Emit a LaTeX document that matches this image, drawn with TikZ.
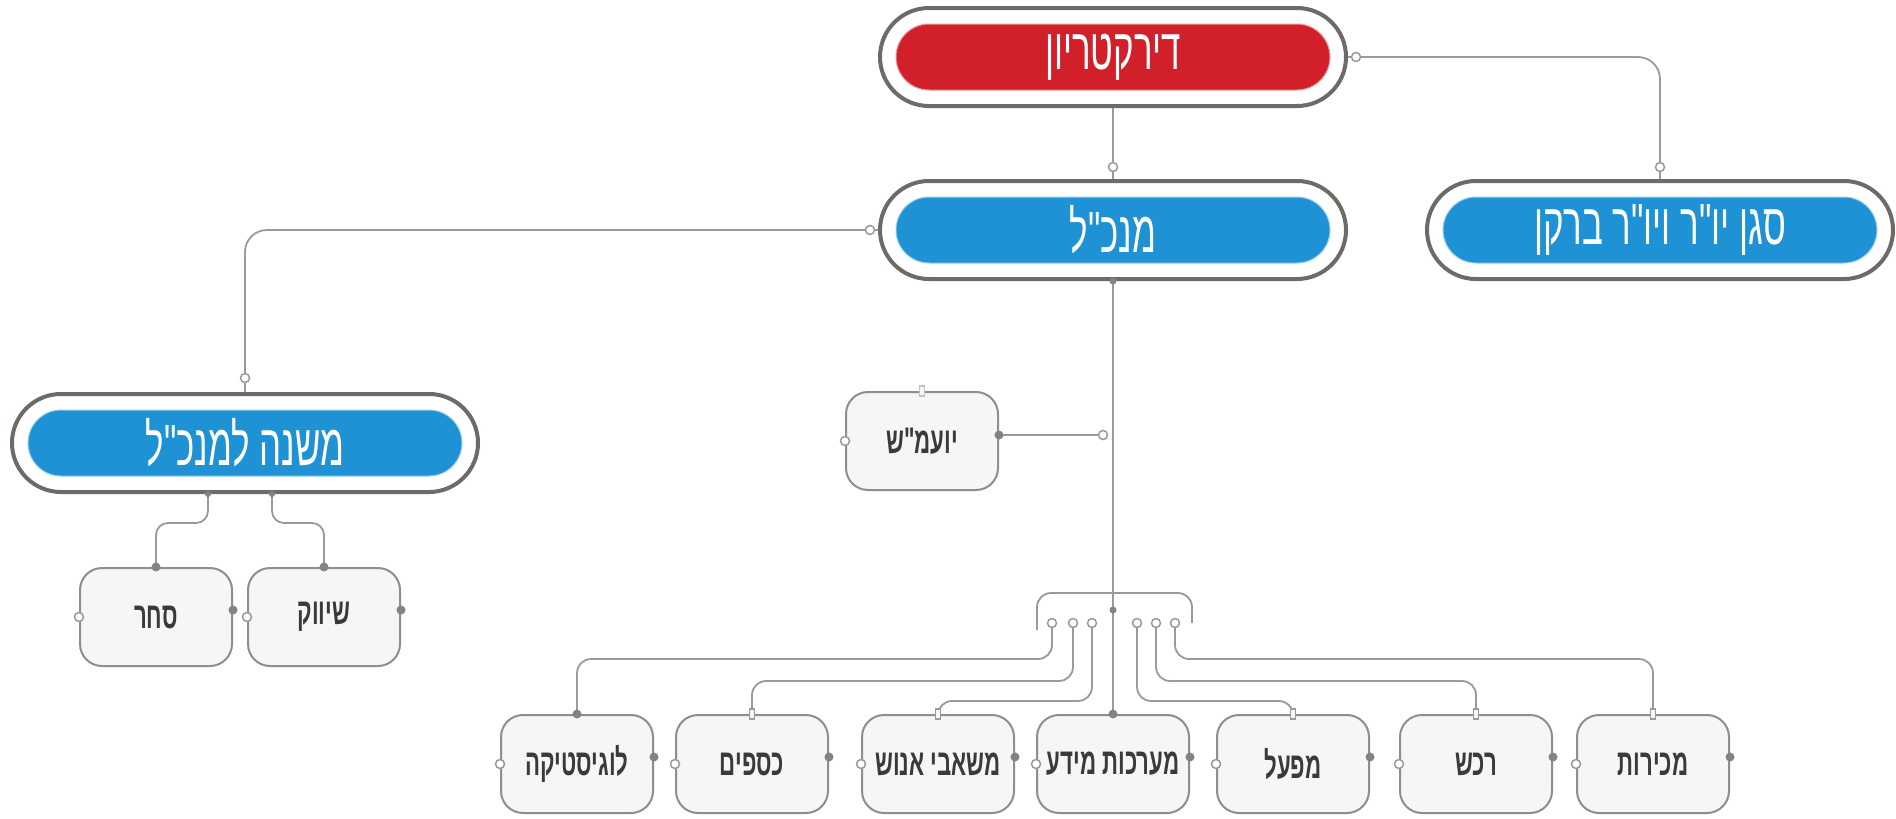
\documentclass[tikz,border=0pt]{standalone}
\usepackage{fontspec}
\usetikzlibrary{shapes.misc}
\TeXXeTstate=1
\newfontfamily\hebfont[Script=Hebrew,FakeStretch=0.6]{Liberation Sans}
\newcommand{\heb}[1]{\hebfont\beginR #1\endR}
\definecolor{redfill}{HTML}{D2202A}
\definecolor{bluefill}{HTML}{1E92D5}
\definecolor{rimcol}{HTML}{6E6A66}
\definecolor{linecol}{HTML}{9A9A9A}
\definecolor{boxfill}{HTML}{F6F6F6}
\definecolor{boxline}{HTML}{8E8E8E}
\definecolor{txtcol}{HTML}{3A3A3A}
\tikzset{
  outerpill/.style={rounded rectangle, draw=rimcol, line width=4pt, fill=white,
    minimum width=466pt, minimum height=98pt, inner sep=0pt},
  innerpill/.style={rounded rectangle, fill=#1, draw=#1!45!white, line width=1pt,
    minimum width=434pt, minimum height=66pt, inner sep=0pt, text=white,
    font=\fontsize{58}{64}\selectfont},
  smallbox/.style={rectangle, rounded corners=22pt, draw=boxline, line width=2pt,
    fill=boxfill, minimum width=152pt, minimum height=98pt, inner sep=0pt,
    text=txtcol, font=\fontsize{37}{42}\selectfont\bfseries},
  conn/.style={draw=linecol, line width=1.8pt, rounded corners=14pt},
  opendot/.style={circle, draw=linecol, fill=white, line width=1.5pt,
    minimum size=9pt, inner sep=0pt},
  filldot/.style={circle, fill=linecol!85!black, minimum size=9pt, inner sep=0pt},
  tickmark/.style={rectangle, draw=linecol, fill=boxfill, line width=1.2pt,
    minimum width=5pt, minimum height=10pt, inner sep=0pt},
}
\begin{document}
\begin{tikzpicture}[x=1pt,y=-1pt]
\useasboundingbox[fill=white] (0,0) rectangle (1896,819);

% big pill nodes
\node[outerpill] (dirO) at (1113,57) {};
\node[innerpill=redfill] (dir) at (1113,57) {\heb{דירקטריון}};
\node[outerpill] (manO) at (1113,230) {};
\node[innerpill=bluefill] (man) at (1113,230) {\heb{מנכ"ל}};
\node[outerpill] (sgO) at (1660,230) {};
\node[innerpill=bluefill] (sg) at (1660,230) {\heb{סגן יו"ר ויו"ר ברקן}};
\node[outerpill] (mishO) at (245,443) {};
\node[innerpill=bluefill] (mish) at (245,443) {\heb{משנה למנכ"ל}};

% small boxes
\node[smallbox] (yoam) at (922,441) {\heb{יועמ"ש}};
\node[smallbox] (sach) at (156,617) {\heb{סחר}};
\node[smallbox] (shiv) at (324,617) {\heb{שיווק}};
\node[smallbox] (logi) at (577,764) {\heb{לוגיסטיקה}};
\node[smallbox] (ksaf) at (752,764) {\heb{כספים}};
\node[smallbox] (enosh) at (938,764) {\heb{משאבי אנוש}};
\node[smallbox] (meida) at (1113,764) {\heb{מערכות מידע}};
\node[smallbox] (mifal) at (1293,764) {\heb{מפעל}};
\node[smallbox] (rechesh) at (1476,764) {\heb{רכש}};
\node[smallbox] (mech) at (1653,764) {\heb{מכירות}};

% connectors between pills
\draw[conn] (dirO.south) -- (manO.north);
\node[opendot] at ([yshift=12pt]manO.north) {};
\draw[conn, rounded corners=22pt] (dirO.east) -| (sgO.north);
\node[opendot] at ([xshift=8pt]dirO.east) {};
\node[opendot] at ([yshift=12pt]sgO.north) {};
\draw[conn, rounded corners=22pt] (manO.west) -| (mishO.north);
\node[opendot] at ([xshift=-8pt]manO.west) {};
\node[opendot] at ([yshift=14pt]mishO.north) {};

% stem and bus
\coordinate (bus) at (1113,593);
\draw[conn] (manO.south) -- (bus);
\node[filldot, minimum size=7pt] at (manO.south) {};
\coordinate (yj) at (1103,435);
\draw[conn] ([yshift=6pt]yoam.east) -- (yj);
\node[filldot] at ([yshift=6pt]yoam.east) {};
\node[opendot] at (yj) {};
\node[tickmark, draw=linecol!60] at (yoam.north) {};

\coordinate (brL) at (1037,630);
\coordinate (brR) at (1192,623);
\draw[conn] (brL) -- (brL |- bus) -- (brR |- bus) -- (brR);

% children of bus
\coordinate (c1) at (1052,623);
\coordinate (c2) at (1073,623);
\coordinate (c3) at (1092,623);
\coordinate (c5) at (1137,623);
\coordinate (c6) at (1156,623);
\coordinate (c7) at (1175,623);
\draw[conn] (c1) -- ++(0,36) -| (logi.north);
\draw[conn] (c2) -- ++(0,58) -| (ksaf.north);
\draw[conn] (c3) -- ++(0,78) -| (enosh.north);
\draw[conn] (bus) -- (meida.north);
\draw[conn] (c5) -- ++(0,78) -| (mifal.north);
\draw[conn] (c6) -- ++(0,58) -| (rechesh.north);
\draw[conn] (c7) -- ++(0,36) -| (mech.north);
\foreach \c in {c1,c2,c3,c5,c6,c7} \node[opendot] at (\c) {};
\node[filldot, minimum size=7pt] at (1113,610) {};
\node[filldot] at (logi.north) {};
\node[filldot] at (meida.north) {};
\foreach \n in {ksaf,enosh,mifal,rechesh,mech} \node[tickmark] at (\n.north) {};

% children of mishne
\draw[conn, rounded corners=12pt] ([xshift=-37pt]mishO.south) -- ++(0,29) -| (sach.north);
\draw[conn, rounded corners=12pt] ([xshift=27pt]mishO.south) -- ++(0,29) -| (shiv.north);
\node[filldot, minimum size=6pt] at ([xshift=-37pt]mishO.south) {};
\node[filldot, minimum size=6pt] at ([xshift=27pt]mishO.south) {};
\node[filldot] at (sach.north) {};
\node[filldot] at (shiv.north) {};

% side markers on small boxes
\foreach \n in {yoam,sach,shiv,logi,ksaf,enosh,meida,mifal,rechesh,mech}
  \node[opendot] at (\n.west) {};
\foreach \n in {sach,shiv,logi,ksaf,enosh,meida,mifal,rechesh,mech}
  \node[filldot] at ([yshift=7pt]\n.east) {};
\end{tikzpicture}
\end{document}
